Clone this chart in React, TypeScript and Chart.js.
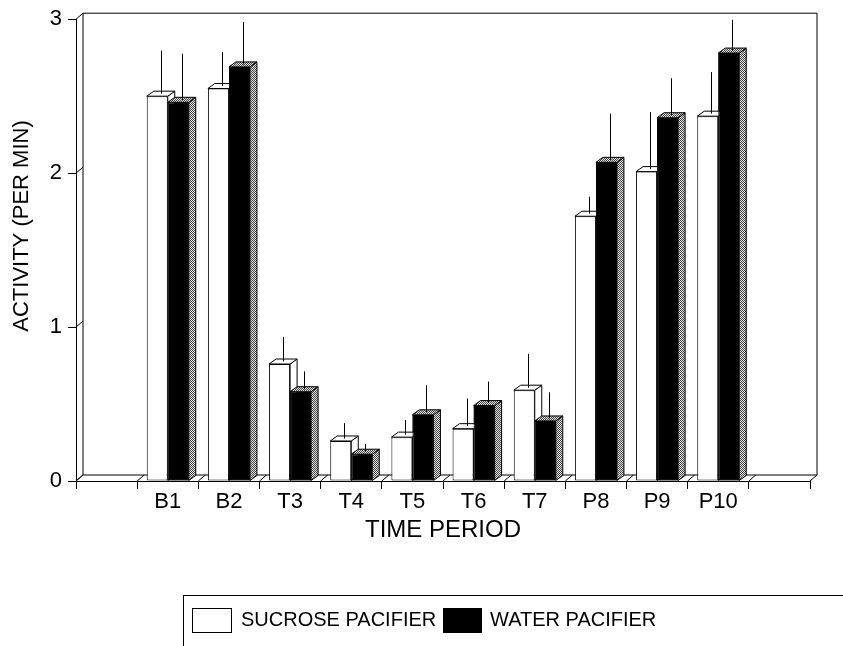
import React, { useEffect, useRef } from "react";
import { Chart, registerables } from "chart.js";
Chart.register(...registerables);

const categories = ["B1", "B2", "T3", "T4", "T5", "T6", "T7", "P8", "P9", "P10"];
const sucrose = [2.5, 2.55, 0.76, 0.26, 0.285, 0.34, 0.59, 1.72, 2.01, 2.37];
const sucroseErr = [0.28, 0.22, 0.16, 0.1, 0.095, 0.18, 0.22, 0.11, 0.37, 0.27];
const water = [2.46, 2.69, 0.58, 0.174, 0.43, 0.49, 0.39, 2.07, 2.36, 2.78];
const waterErr = [0.3, 0.275, 0.116, 0.05, 0.176, 0.14, 0.17, 0.3, 0.24, 0.2];
const yTicks = [0, 1, 2, 3];
const seriesNames = ["SUCROSE PACIFIER", "WATER PACIFIER"];
const xTitle = "TIME PERIOD";
const yTitle = "ACTIVITY (PER MIN)";

const FONT = "'Liberation Sans', Arial, Helvetica, sans-serif";
const BDX = 7;
const BDY = 5;
const FDX = 7;
const FDY = 6;

function makePattern(ctx: CanvasRenderingContext2D) {
  const c = document.createElement("canvas");
  c.width = 2;
  c.height = 2;
  const p = c.getContext("2d")!;
  p.fillStyle = "#e4e4e4";
  p.fillRect(0, 0, 2, 2);
  p.fillStyle = "#444";
  p.fillRect(0, 0, 1, 1);
  p.fillRect(1, 1, 1, 1);
  return ctx.createPattern(c, "repeat")!;
}

function draw3d(ctx: CanvasRenderingContext2D, bar: any, fill: any) {
  const { x, y, base, width } = bar.getProps(["x", "y", "base", "width"], true);
  const x0 = x - width / 2;
  const x1 = x + width / 2;
  ctx.beginPath();
  ctx.moveTo(x1, y);
  ctx.lineTo(x1 + BDX, y - BDY);
  ctx.lineTo(x1 + BDX, base - BDY);
  ctx.lineTo(x1, base);
  ctx.closePath();
  ctx.fillStyle = fill;
  ctx.fill();
  ctx.stroke();
  ctx.beginPath();
  ctx.moveTo(x0, y);
  ctx.lineTo(x0 + BDX, y - BDY);
  ctx.lineTo(x1 + BDX, y - BDY);
  ctx.lineTo(x1, y);
  ctx.closePath();
  ctx.fillStyle = fill;
  ctx.fill();
  ctx.stroke();
}

const framePlugin = {
  id: "frame3d",
  beforeDatasetsDraw(chart: any) {
    const { ctx, chartArea } = chart;
    const y = chart.scales.y;
    const L = chartArea.left, R = chartArea.right, T = chartArea.top, B = chartArea.bottom;
    ctx.save();
    ctx.strokeStyle = "#000";
    ctx.lineWidth = 1;
    ctx.beginPath();
    ctx.moveTo(L + FDX, T - FDY);
    ctx.lineTo(R + FDX, T - FDY);
    ctx.moveTo(L + FDX, T - FDY);
    ctx.lineTo(L + FDX, B - FDY);
    ctx.moveTo(R + FDX, T - FDY);
    ctx.lineTo(R + FDX, B - FDY);
    ctx.moveTo(L + FDX, B - FDY);
    ctx.lineTo(R + FDX, B - FDY);
    for (const v of yTicks) {
      const py = y.getPixelForValue(v);
      ctx.moveTo(L, py);
      ctx.lineTo(L + FDX, py - FDY);
    }
    const n = chart.data.labels.length;
    const w = (R - L) / n;
    for (let i = 0; i <= n; i++) {
      const xb = L + i * w;
      ctx.moveTo(xb, B);
      ctx.lineTo(xb + FDX, B - FDY);
    }
    ctx.stroke();
    ctx.restore();
  },
  afterDatasetsDraw(chart: any) {
    const { ctx } = chart;
    const yS = chart.scales.y;
    const pattern = makePattern(ctx);
    const sMeta = chart.getDatasetMeta(0);
    const wMeta = chart.getDatasetMeta(1);
    const sData = chart.data.datasets[0].data;
    const wData = chart.data.datasets[1].data;
    ctx.save();
    ctx.strokeStyle = "#000";
    ctx.lineWidth = 1;
    sMeta.data.forEach((bar: any, i: number) => {
      if (sData[i] === null) return;
      draw3d(ctx, bar, "#fff");
    });
    ctx.restore();
    // water bars redrawn in front of the sucrose side faces
    wMeta.data.forEach((bar: any, i: number) => {
      if (wData[i] === null) return;
      bar.draw(ctx, chart.chartArea);
    });
    ctx.save();
    ctx.strokeStyle = "#000";
    ctx.lineWidth = 1;
    wMeta.data.forEach((bar: any, i: number) => {
      if (wData[i] === null) return;
      draw3d(ctx, bar, pattern);
    });
    // error bars
    chart.data.datasets.forEach((ds: any, di: number) => {
      const meta = chart.getDatasetMeta(di);
      meta.data.forEach((bar: any, i: number) => {
        const v = ds.data[i];
        const e = ds.errors[i];
        if (v === null || v === undefined || e === null || e === undefined) return;
        const { x, y } = bar.getProps(["x", "y"], true);
        const ex = Math.round(x + BDX / 2) + 0.5;
        const top = yS.getPixelForValue(v + e) - BDY / 2;
        ctx.beginPath();
        ctx.moveTo(ex, y - BDY / 2);
        ctx.lineTo(ex, top);
        ctx.stroke();
      });
    });
    ctx.restore();
  },
  afterDraw(chart: any) {
    const { ctx } = chart;
    ctx.save();
    ctx.fillStyle = "#000";
    ctx.font = `22px ${FONT}`;
    ctx.textAlign = "center";
    ctx.textBaseline = "middle";
    ctx.translate(22, 226);
    ctx.rotate(-Math.PI / 2);
    ctx.fillText(yTitle, 0, 0);
    ctx.restore();

    ctx.save();
    ctx.strokeStyle = "#000";
    ctx.lineWidth = 1;
    ctx.strokeRect(183.5, 595.5, 900, 200);
    const ds = chart.data.datasets;
    ctx.font = `20px ${FONT}`;
    ctx.textBaseline = "middle";
    ctx.textAlign = "left";
    ctx.fillStyle = "#fff";
    ctx.fillRect(192.5, 608.5, 39, 24);
    ctx.strokeRect(192.5, 608.5, 39, 24);
    ctx.fillStyle = "#000";
    ctx.fillText(ds[0].label, 241, 620);
    ctx.fillRect(443, 608, 39, 25);
    ctx.fillText(ds[1].label, 490, 620);
    ctx.restore();
  },
};

export default function App() {
  const ref = useRef<HTMLCanvasElement>(null);
  useEffect(() => {
    document.body.style.margin = "0";
    const canvas = ref.current!;
    const labels = ["", ...categories, ""];
    const chart = new Chart(canvas, {
      type: "bar",
      data: {
        labels,
        datasets: [
          {
            label: seriesNames[0],
            data: [null, ...sucrose, null],
            errors: [null, ...sucroseErr, null],
            backgroundColor: "#fff",
            borderColor: "#000",
            borderWidth: 1,
            borderSkipped: false,
          } as any,
          {
            label: seriesNames[1],
            data: [null, ...water, null],
            errors: [null, ...waterErr, null],
            backgroundColor: "#000",
            borderColor: "#000",
            borderWidth: 1,
            borderSkipped: false,
          } as any,
        ],
      },
      options: {
        responsive: false,
        animation: false,
        devicePixelRatio: 1,
        layout: { padding: { left: 0, right: 33, top: 15, bottom: 0 } },
        datasets: { bar: { categoryPercentage: 0.687, barPercentage: 1 } },
        plugins: { legend: { display: false }, tooltip: { enabled: false } },
        scales: {
          x: {
            offset: true,
            grid: {
              offset: true,
              drawOnChartArea: false,
              drawTicks: true,
              tickLength: 8,
              color: "#000",
              lineWidth: 1,
            },
            border: { display: true, color: "#000", width: 1 },
            ticks: {
              color: "#000",
              font: { family: FONT, size: 22 },
              padding: 0,
              maxRotation: 0,
              autoSkip: false,
            },
            title: {
              display: true,
              text: xTitle,
              color: "#000",
              font: { family: FONT, size: 24 },
              padding: { top: 0, bottom: 101 },
            },
            afterFit(scale: any) {
              scale.height = 165;
            },
          },
          y: {
            min: 0,
            max: 3,
            ticks: {
              stepSize: 1,
              color: "#000",
              font: { family: FONT, size: 22 },
              padding: 6,
              callback: (v: any) => (yTicks.includes(v) ? String(v) : ""),
            },
            grid: {
              drawOnChartArea: false,
              drawTicks: true,
              tickLength: 8,
              color: "#000",
            },
            border: { display: true, color: "#000", width: 1 },
            afterFit(scale: any) {
              scale.width = 76;
            },
          },
        },
      },
      plugins: [framePlugin],
    });
    return () => chart.destroy();
  }, []);
  return <canvas ref={ref} width={843} height={646} style={{ display: "block", width: 843, height: 646 }} />;
}
